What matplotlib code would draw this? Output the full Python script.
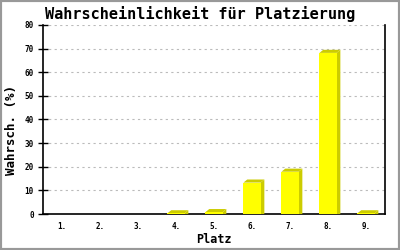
import numpy as np
import matplotlib
matplotlib.use('Agg')
import matplotlib.pyplot as plt
from matplotlib.patches import Polygon, Rectangle

places = ['1.', '2.', '3.', '4.', '5.', '6.', '7.', '8.', '9.']
probs = [0.0, 0.0, 0.0, 0.3, 0.8, 13.3, 17.9, 68.2, 0.3]
yticks = [0, 10, 20, 30, 40, 50, 60, 70, 80]

mono = 'DejaVu Sans Mono'
front = '#ffff00'
shade = '#cccc00'

fig = plt.figure(figsize=(4, 2.5), dpi=100)
fig.patches.append(Rectangle((0, 0), 1, 1, transform=fig.transFigure,
                             fill=False, edgecolor='#999999', linewidth=3))
ax = fig.add_axes([0.1075, 0.144, 0.855, 0.756])

x = np.arange(1, len(places) + 1)
w = 0.45
dx = 0.1    # depth, data units (~4 px)
dy = 1.3    # depth, data units (~3 px)

for xi, v in zip(x, probs):
    if v <= 0:
        continue
    l, r = xi - w / 2, xi + w / 2
    ax.add_patch(Polygon([(r, 0), (r + dx, 0), (r + dx, v + dy), (r, v)],
                         closed=True, facecolor=shade, edgecolor='none', zorder=3))
    ax.add_patch(Polygon([(l, v), (l + dx, v + dy), (r + dx, v + dy), (r, v)],
                         closed=True, facecolor=shade, edgecolor='none', zorder=3))
ax.bar(x, probs, width=w, color=front, edgecolor='none', zorder=4)

ax.set_xlim(0.5, 9.5)
ax.set_ylim(0, 80)
ax.set_xticks(x)
ax.set_xticklabels(places, fontfamily=mono, fontsize=5.5, fontweight='bold')
ax.set_yticks(yticks)
ax.set_yticklabels([str(t) for t in yticks], fontfamily=mono, fontsize=5.5, fontweight='bold')
ax.tick_params(axis='x', length=0, pad=6)
ax.tick_params(axis='y', direction='inout', length=7.5, width=1, pad=3)

for t in yticks[1:]:
    ax.axhline(t, color='#bbbbbb', linewidth=0.8, linestyle=(0, (2, 3)), zorder=1)

ax.spines['top'].set_visible(False)
for s in ['left', 'bottom', 'right']:
    ax.spines[s].set_linewidth(1.2)
    ax.spines[s].set_color('black')

ax.set_xlabel('Platz', fontfamily=mono, fontsize=8.5, fontweight='bold', va='center')
ax.xaxis.set_label_coords(0.5, -0.135)
ax.set_ylabel('Wahrsch. (%)', fontfamily=mono, fontsize=9, fontweight='bold', va='center')
ax.yaxis.set_label_coords(-0.093, 0.445)
fig.text(0.5, 0.944, 'Wahrscheinlichkeit für Platzierung', ha='center', va='center',
         fontfamily=mono, fontsize=11, fontweight='bold')

fig.savefig('out.png', dpi=100, facecolor='white')
